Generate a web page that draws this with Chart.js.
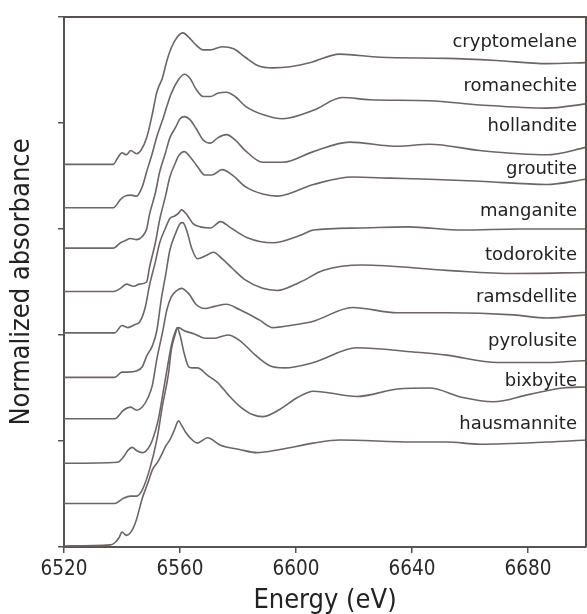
<!DOCTYPE html>
<html>
<head>
<meta charset="utf-8">
<script src="https://cdn.jsdelivr.net/npm/chart.js@4/dist/chart.umd.min.js"></script>
<style>
  html, body { margin: 0; padding: 0; background: #fff; }
  #wrap { width: 587px; height: 614px; }
</style>
</head>
<body>
<div id="wrap"><canvas id="xanes"></canvas></div>
<script>
// Mn K-edge XANES, normalized absorbance [energy eV, mu], stacked with offsets
const minerals = ["cryptomelane", "romanechite", "hollandite", "groutite", "manganite",
                  "todorokite", "ramsdellite", "pyrolusite", "bixbyite", "hausmannite"];
const offsets = [3.61, 3.2, 2.82, 2.41, 2.02, 1.6, 1.21, 0.79, 0.41, 0.01];
const energyTicks = [6520, 6560, 6600, 6640, 6680];

const cryptomelane = [[6520,0],[6537,0],[6538.5,0.06],[6540,0.11],[6541.5,0.09],[6543,0.13],[6545,0.10],[6546.5,0.13],[6548.5,0.25],[6550.5,0.48],[6552,0.68],[6554,0.82],[6555.5,0.98],[6557,1.10],[6559,1.20],[6561,1.24],[6563,1.20],[6565,1.14],[6568,1.08],[6570.5,1.08],[6574.5,1.11],[6578.5,1.09],[6582.5,1.01],[6587,0.93],[6592,0.91],[6598,0.92],[6605,0.96],[6615,1.04],[6629,1.01],[6652,1.00],[6669,0.98],[6686.5,0.95],[6700,0.96]];
const romanechite = [[6520,0],[6537,0],[6539.5,0.08],[6541,0.11],[6543,0.12],[6545,0.11],[6547,0.20],[6548.5,0.34],[6550.5,0.52],[6552,0.67],[6554,0.83],[6555.5,0.96],[6557,1.08],[6559.5,1.21],[6561.5,1.26],[6563.5,1.22],[6565.5,1.12],[6568,1.05],[6570.5,1.05],[6573,1.08],[6576,1.09],[6579,1.05],[6582.5,0.96],[6588.5,0.88],[6595.5,0.84],[6606,0.92],[6616,1.04],[6625.5,1.02],[6646,1.01],[6663.5,0.97],[6686.5,0.94],[6700,0.98]];
const hollandite = [[6520,0],[6537,0],[6539.5,0.05],[6541,0.07],[6543,0.09],[6545,0.08],[6547,0.11],[6548.5,0.18],[6549.5,0.32],[6551.5,0.52],[6553,0.72],[6555,0.90],[6556.5,1.04],[6558.5,1.14],[6560,1.22],[6561.5,1.24],[6563.5,1.21],[6565.5,1.13],[6568,1.02],[6570.5,0.99],[6573,1.04],[6576,1.07],[6579,1.02],[6582.5,0.92],[6588.5,0.81],[6595.5,0.81],[6606,0.91],[6618.5,1.00],[6635,0.96],[6646,0.98],[6663.5,0.92],[6686.5,0.88],[6700,0.95]];
const groutite = [[6520,0],[6537,0],[6539.5,0.03],[6541.5,0.07],[6544,0.05],[6546,0.07],[6548.5,0.09],[6549.5,0.23],[6551.5,0.46],[6553,0.68],[6555,0.90],[6556.5,1.08],[6558.5,1.22],[6559.5,1.28],[6561.5,1.32],[6563.5,1.27],[6566,1.18],[6568.5,1.10],[6571,1.10],[6574.5,1.15],[6578,1.10],[6582.5,0.99],[6588.5,0.92],[6593.5,0.90],[6606,1.01],[6619.5,1.08],[6632.5,1.07],[6646,1.06],[6663.5,1.04],[6686.5,1.01],[6700,1.06]];
const manganite = [[6520,0],[6537.5,0],[6540,0.07],[6542,0.05],[6544.5,0.08],[6546,0.10],[6548,0.24],[6549.5,0.45],[6551.5,0.67],[6553,0.85],[6555,0.99],[6556.5,1.08],[6558,1.10],[6559.5,1.13],[6560.5,1.16],[6562.5,1.11],[6564.5,1.03],[6567,1.00],[6570.5,0.99],[6574,1.05],[6577,1.00],[6583,0.90],[6592,0.85],[6601.5,0.92],[6606,0.97],[6622,0.99],[6638.5,1.00],[6657.5,0.97],[6677,0.98],[6700,0.98]];
const todorokite = [[6520,0],[6537.5,0],[6540,0.05],[6542,0.05],[6545,0.06],[6547,0.10],[6548.5,0.20],[6550.5,0.30],[6552,0.44],[6553.5,0.73],[6555,0.96],[6556.5,1.20],[6558.5,1.36],[6560,1.45],[6561,1.46],[6562.5,1.37],[6564,1.22],[6566,1.12],[6569,1.15],[6571.5,1.18],[6574.5,1.12],[6578,1.03],[6582.5,0.92],[6588.5,0.84],[6593.5,0.82],[6601.5,0.90],[6609.5,1.01],[6623,1.06],[6652,1.01],[6675,0.98],[6700,0.99]];
const ramsdellite = [[6520,0],[6537.5,0],[6540.5,0.08],[6543,0.11],[6545,0.08],[6547,0.11],[6549,0.20],[6550.5,0.32],[6552,0.56],[6554,0.82],[6555.5,1.03],[6557,1.15],[6559,1.21],[6560.5,1.23],[6563,1.18],[6565.5,1.08],[6568.5,1.04],[6572,1.06],[6576,1.08],[6580.5,1.03],[6587.5,0.93],[6592,0.86],[6598,0.88],[6606,0.92],[6619.5,1.05],[6635,1.00],[6652,1.00],[6675,0.98],[6686.5,0.95],[6700,0.98]];
const pyrolusite = [[6520,0],[6538.5,0.01],[6540.5,0.06],[6542,0.12],[6543.5,0.15],[6545,0.12],[6547,0.10],[6549,0.14],[6550.5,0.22],[6552.5,0.41],[6554,0.64],[6555.5,0.88],[6557,1.11],[6558.5,1.25],[6559.5,1.28],[6561.5,1.25],[6565,1.22],[6568.5,1.18],[6572,1.18],[6576.5,1.21],[6580.5,1.16],[6586,1.02],[6591,0.92],[6596,0.90],[6606,0.95],[6621,1.09],[6640.5,1.05],[6652,1.02],[6669.5,0.95],[6686.5,0.95],[6700,0.97]];
const bixbyite = [[6520,0],[6537.5,0],[6540.5,0.05],[6543,0.07],[6545,0.07],[6547,0.13],[6549.5,0.32],[6552,0.60],[6554,0.93],[6556,1.22],[6557,1.45],[6558.5,1.61],[6559,1.66],[6560,1.59],[6561.5,1.41],[6563,1.29],[6564.5,1.28],[6566,1.28],[6569.5,1.21],[6573,1.14],[6576.5,1.03],[6580.5,0.92],[6585,0.84],[6588.5,0.82],[6594.5,0.89],[6600.5,1.00],[6606,1.06],[6621,1.01],[6635,1.08],[6646,1.09],[6657.5,1.00],[6668,0.96],[6680.5,1.03],[6692,1.09],[6700,1.10]];
const hausmannite = [[6520,0],[6536,0.01],[6537.5,0.03],[6539,0.08],[6540,0.13],[6541.5,0.10],[6543.5,0.15],[6545,0.25],[6547,0.45],[6549,0.60],[6550.5,0.72],[6552.5,0.80],[6554,0.88],[6555,0.94],[6556.5,1.00],[6558,1.09],[6559.5,1.18],[6560.5,1.14],[6562,1.07],[6563.5,1.02],[6566,0.97],[6569.5,1.02],[6574,0.95],[6580.5,0.91],[6586.5,0.88],[6594.5,0.91],[6606,0.97],[6615,1.00],[6640.5,0.98],[6652,0.98],[6663.5,0.96],[6686.5,0.98],[6700,1.00]];

const spectra = [cryptomelane, romanechite, hollandite, groutite, manganite,
                 todorokite, ramsdellite, pyrolusite, bixbyite, hausmannite];

const axisFont = "'DejaVu Sans Condensed', 'DejaVu Sans', sans-serif";
const lineColor = "#6d6565";
const axisColor = "#585252";

// top/right frame lines and the mineral names
const frameAndLabels = {
    id: "frameAndLabels",
    afterDatasetsDraw(chart) {
        const { ctx, chartArea: a, scales: { y } } = chart;
        ctx.save();
        ctx.strokeStyle = axisColor;
        ctx.lineWidth = 2;
        ctx.beginPath();
        ctx.moveTo(a.left, a.top);
        ctx.lineTo(a.right, a.top);
        ctx.lineTo(a.right, a.bottom);
        ctx.stroke();
        ctx.font = "18px 'DejaVu Sans'";
        ctx.fillStyle = "#222";
        ctx.textAlign = "right";
        ctx.textBaseline = "middle";
        minerals.forEach((name, i) => {
            ctx.fillText(name, a.right - 9, y.getPixelForValue(offsets[i] + 1.15));
        });
        ctx.restore();
    },
};

function renderXanes() {
    const ctx = document.getElementById("xanes").getContext("2d");
    new Chart(ctx, {
        type: "line",
        data: {
            datasets: spectra.map((s, i) => ({
                label: minerals[i],
                data: s.map(([e, mu]) => ({ x: e, y: mu + offsets[i] })),
                borderColor: lineColor,
                borderWidth: 1.6,
                pointRadius: 0,
                fill: false,
                cubicInterpolationMode: "monotone",
            })),
        },
        options: {
            responsive: true,
            maintainAspectRatio: false,
            animation: false,
            layout: { padding: { top: 17, right: 1, left: 0, bottom: 0 } },
            plugins: { legend: { display: false }, tooltip: { enabled: false } },
            scales: {
                x: {
                    type: "linear",
                    min: 6520,
                    max: 6700,
                    afterFit: (s) => { s.height = 67; },
                    afterBuildTicks: (s) => { s.ticks = energyTicks.map((v) => ({ value: v })); },
                    ticks: {
                        font: { family: axisFont, size: 20.5 },
                        color: "#2a2a2a",
                        padding: 4,
                        maxRotation: 0,
                        callback: (v) => String(v),
                    },
                    grid: { drawOnChartArea: false, drawTicks: true, tickLength: 6, color: axisColor, lineWidth: 1.5 },
                    border: { display: true, color: axisColor, width: 2 },
                    title: {
                        display: true,
                        text: "Energy (eV)",
                        font: { family: axisFont, size: 27, lineHeight: 1 },
                        color: "#222",
                        padding: { top: 0, bottom: 0 },
                    },
                },
                y: {
                    min: 0,
                    max: 5,
                    afterFit: (s) => { s.width = 64; },
                    ticks: { stepSize: 1, display: false },
                    grid: { drawOnChartArea: false, drawTicks: true, tickLength: 6, color: axisColor, lineWidth: 1.5 },
                    border: { display: true, color: axisColor, width: 2 },
                    title: {
                        display: true,
                        text: "Normalized absorbance",
                        font: { family: axisFont, size: 27, lineHeight: 1 },
                        color: "#222",
                        padding: { top: 8, bottom: 0 },
                    },
                },
            },
        },
        plugins: [frameAndLabels],
    });
}

renderXanes();
</script>
</body>
</html>
